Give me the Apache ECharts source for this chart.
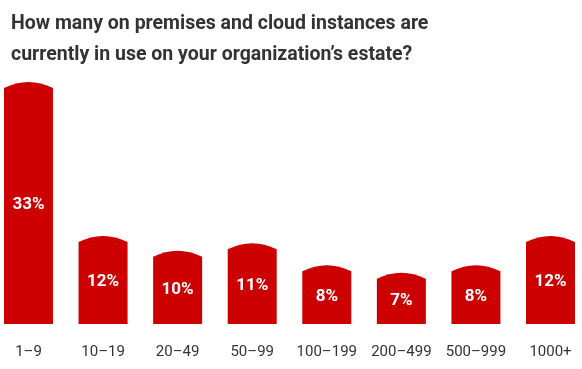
<!DOCTYPE html>
<html><head><meta charset="utf-8">
<script src="https://cdn.jsdelivr.net/npm/echarts@6/dist/echarts.min.js"></script>
<style>html,body{margin:0;padding:0;background:#fff}#c{width:582px;height:369px}</style>
</head><body><div id="c"></div>
<script>
const titleLines = ["How many on premises and cloud instances are", "currently in use on your organization’s estate?"];
const categories = ["1–9", "10–19", "20–49", "50–99", "100–199", "200–499", "500–999", "1000+"];
const values = [33, 12, 10, 11, 8, 7, 8, 12];

const chart = echarts.init(document.getElementById('c'), null, {renderer: 'canvas'});
const BAR_W = 49, ARC = 6;
chart.setOption({
  animation: false,
  title: {
    text: titleLines.join('\n'), left: 6, top: 4,
    textStyle: {fontFamily: 'Roboto', fontWeight: 'bold', fontSize: 19.5, color: '#333', lineHeight: 31}
  },
  grid: {left: -8.8, right: -5.8, top: 82, bottom: 45, outerBoundsMode: 'none', containLabel: false},
  xAxis: {
    type: 'category', data: categories,
    axisLine: {show: false}, axisTick: {show: false}, splitLine: {show: false},
    axisLabel: {margin: 21, interval: 0, fontFamily: 'Roboto', fontSize: 15, color: '#333'}
  },
  yAxis: {type: 'value', min: 0, max: 33, show: false, splitLine: {show: false}},
  series: [{
    type: 'custom',
    data: values.map((v, i) => [i, v]),
    renderItem: function (params, api) {
      const i = api.value(0), v = api.value(1);
      const top = api.coord([i, v]);
      const base = api.coord([i, 0]);
      const x0 = top[0] - BAR_W / 2, x1 = top[0] + BAR_W / 2;
      const edge = top[1] + ARC;
      const ctrl = edge - 2 * ARC;
      const path = `M${x0} ${base[1]} L${x0} ${edge} Q${top[0]} ${ctrl} ${x1} ${edge} L${x1} ${base[1]} Z`;
      return {
        type: 'group',
        children: [
          {type: 'path', shape: {pathData: path}, style: {fill: '#cc0000'}},
          {type: 'text', style: {
            text: v + '%', x: top[0], y: (edge + base[1]) / 2 - 1,
            align: 'center', verticalAlign: 'middle',
            fill: '#fff', font: 'bold 17px Roboto'
          }}
        ]
      };
    }
  }]
});
</script></body></html>
